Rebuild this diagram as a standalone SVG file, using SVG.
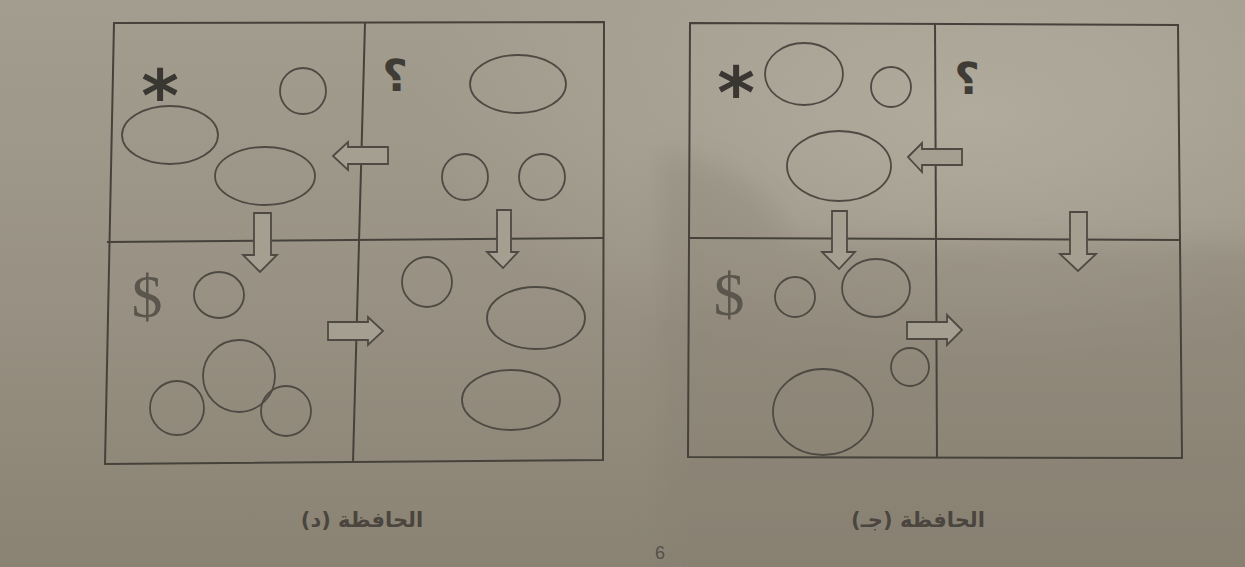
<svg xmlns="http://www.w3.org/2000/svg" width="1245" height="567" viewBox="0 0 1245 567">
<defs>
<linearGradient id="bg" x1="0" y1="0" x2="0" y2="1">
<stop offset="0" stop-color="#a39d90"/>
<stop offset="0.5" stop-color="#999284"/>
<stop offset="1" stop-color="#8a8374"/>
</linearGradient>
<radialGradient id="glow" cx="0.78" cy="0.2" r="0.45">
<stop offset="0" stop-color="#b3ada0" stop-opacity="0.9"/>
<stop offset="1" stop-color="#b3ada0" stop-opacity="0"/>
</radialGradient>
<filter id="soft" x="-20%" y="-20%" width="140%" height="140%">
<feGaussianBlur stdDeviation="12"/>
</filter>
<style>
.frame{fill:none;stroke:#46423b;stroke-width:2}
.shape{fill:none;stroke:#4e4a43;stroke-width:1.8}
.arrow{fill:#a59f92;stroke:#4e4a43;stroke-width:1.8;stroke-linejoin:miter}
.sym{font-family:"DejaVu Sans",sans-serif;font-weight:bold;fill:#3a3631}
.q{font-family:"DejaVu Serif","DejaVu Sans",serif;font-weight:bold;fill:#3f3b35}
.dollar{font-family:"Liberation Serif",serif;fill:#5a554d}
.cap{font-family:"DejaVu Sans",sans-serif;font-weight:bold;font-size:21px;fill:#4a453e}
</style>
</defs>
<rect x="0" y="0" width="1245" height="567" fill="url(#bg)"/>
<rect x="0" y="0" width="1245" height="567" fill="url(#glow)"/>
<path d="M660,150 Q765,165 790,240 L1280,245 L1280,600 L660,600 Z" fill="#857e70" opacity="0.3" filter="url(#soft)"/>

<g id="panel-d">
<polygon class="frame" points="114,23 604,22 603,460 105,464"/>
<line class="frame" x1="365" y1="23" x2="353" y2="462"/>
<line class="frame" x1="107" y1="242" x2="603" y2="238"/>
</g>
<g id="panel-d-q1">
<text class="sym" x="160" y="121" font-size="72" text-anchor="middle">*</text>
<circle class="shape" cx="303" cy="91" r="23"/>
<ellipse class="shape" cx="170" cy="135" rx="48" ry="29"/>
<ellipse class="shape" cx="265" cy="176" rx="50" ry="29"/>
</g>
<g id="panel-d-q2">
<text class="q" x="395" y="91" font-size="44" text-anchor="middle">؟</text>
<ellipse class="shape" cx="518" cy="84" rx="48" ry="29"/>
<circle class="shape" cx="465" cy="177" r="23"/>
<circle class="shape" cx="542" cy="177" r="23"/>
</g>
<g id="panel-d-q3">
<text class="dollar" x="147" y="317" font-size="62" text-anchor="middle">$</text>
<ellipse class="shape" cx="219" cy="295" rx="25" ry="23"/>
<circle class="shape" cx="239" cy="376" r="36"/>
<circle class="shape" cx="177" cy="408" r="27"/>
<circle class="shape" cx="286" cy="411" r="25"/>
</g>
<g id="panel-d-q4">
<circle class="shape" cx="427" cy="282" r="25"/>
<ellipse class="shape" cx="536" cy="318" rx="49" ry="31"/>
<ellipse class="shape" cx="511" cy="400" rx="49" ry="30"/>
</g>

<g id="panel-c">
<polygon class="frame" points="690,23 1178,25 1182,458 688,457"/>
<line class="frame" x1="935" y1="23" x2="937" y2="458"/>
<line class="frame" x1="690" y1="238" x2="1180" y2="240"/>
</g>
<g id="panel-c-q1">
<text class="sym" x="736" y="118" font-size="72" text-anchor="middle">*</text>
<ellipse class="shape" cx="804" cy="74" rx="39" ry="31"/>
<circle class="shape" cx="891" cy="87" r="20"/>
<ellipse class="shape" cx="839" cy="166" rx="52" ry="35"/>
</g>
<g id="panel-c-q2">
<text class="q" x="967" y="94" font-size="44" text-anchor="middle">؟</text>
</g>
<g id="panel-c-q3">
<text class="dollar" x="729" y="315" font-size="62" text-anchor="middle">$</text>
<circle class="shape" cx="795" cy="297" r="20"/>
<ellipse class="shape" cx="876" cy="288" rx="34" ry="29"/>
<circle class="shape" cx="910" cy="367" r="19"/>
<ellipse class="shape" cx="823" cy="412" rx="50" ry="43"/>
</g>

<g id="connectors">
<polygon class="arrow" points="333,156 348,142 348,147 388,147 388,164 348,164 348,170"/>
<polygon class="arrow" points="254,213 271,213 271,255 277,255 260,272 243,255 254,255"/>
<polygon class="arrow" points="497,210 511,210 511,252 518,252 503,268 487,252 497,252"/>
<polygon class="arrow" points="383,331 368,317 368,322 328,322 328,340 368,340 368,345"/>
<polygon class="arrow" points="908,157 922,143 922,149 962,149 962,165 922,165 922,172"/>
<polygon class="arrow" points="832,211 847,211 847,252 855,252 839,269 822,252 832,252"/>
<polygon class="arrow" points="1070,212 1087,212 1087,254 1096,254 1078,271 1060,254 1070,254"/>
<polygon class="arrow" points="962,330 947,315 947,322 907,322 907,339 947,339 947,345"/>
</g>

<g id="captions">
<text class="cap" x="362" y="527" text-anchor="middle" direction="rtl">الحافظة (د)</text>
<text class="cap" x="918" y="527" text-anchor="middle" direction="rtl">الحافظة (جـ)</text>
<text x="660" y="559" font-family="Liberation Sans, sans-serif" font-size="18" fill="#55504a" text-anchor="middle">6</text>
</g>
</svg>
